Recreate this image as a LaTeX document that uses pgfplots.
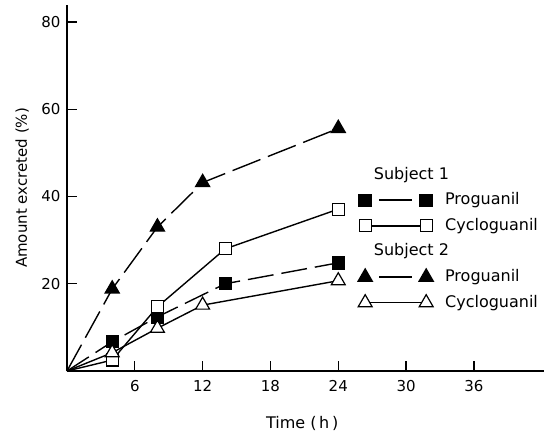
\documentclass[border=0pt]{standalone}
\usepackage{pgfplots}
\pgfplotsset{compat=1.18}
\usepackage{fontspec}
\setmainfont{DejaVu Sans}
\pgfplotsset{
  legdash/.style={legend image code/.code={%
    \draw[##1, solid, line width=1.6pt, shorten >=14pt, shorten <=14pt] (0pt,0pt) -- (61pt,0pt);
    \draw[##1, solid, only marks, mark indices={1,2}] plot coordinates {(0pt,0pt) (61pt,0pt)};}},
  legsolid/.style={legend image code/.code={%
    \draw[##1, line width=1.4pt] (0pt,0pt) -- (61pt,0pt);
    \draw[##1, only marks, mark indices={1,2}] plot coordinates {(0pt,0pt) (61pt,0pt)};}},
  leghead/.style={legend image code/.code={%
    \node[overlay, anchor=west, inner sep=0pt, text height=13pt, text depth=4pt] at (8pt,0pt) {#1};}},
}
\begin{document}
\begin{tikzpicture}
\useasboundingbox (-67pt,-61pt) rectangle (483pt,371pt);
\begin{axis}[
  scale only axis,
  width=477pt, height=366pt,
  xmin=0, xmax=42.2, ymin=0, ymax=83.9,
  axis lines=left,
  axis line style={-, line width=1.6pt},
  xtick={6,12,18,24,30,36},
  ytick={20,40,60,80},
  major tick length=10pt,
  tick style={line width=1.2pt, black},
  tick align=inside,
  /pgf/number format/assume math mode=true,
  ticklabel style={font=\fontsize{15}{18}\selectfont, text=black},
  xticklabel style={yshift=-6pt},
  yticklabel style={xshift=-3pt},
  xlabel={Time (\,h\,)},
  ylabel={Amount excreted (\%)},
  label style={font=\fontsize{15}{18}\selectfont},
  xlabel style={at={(axis description cs:0.493,0)}, anchor=center, yshift=-52pt, font=\fontsize{16}{18}\selectfont},
  ylabel style={at={(axis description cs:-0.094,0.5)}, anchor=center},
  every axis plot/.append style={line width=1.4pt, black},
  legend style={draw=none, fill=none, at={(axis cs:25.75,47.0)}, anchor=north west,
    font=\fontsize{16}{18}\selectfont, row sep=8.6pt, column sep=12pt, inner sep=0pt,
    nodes={inner sep=0pt, text height=13pt, text depth=4pt}},
  legend cell align=left,
]
\addlegendimage{leghead={Subject 1}}
\addlegendentry{}
% Subject 1 Proguanil
\addplot[dash pattern=on 26pt off 8pt, mark=square*, mark size=6pt, mark indices={2,3,4,5},
  mark options={solid, fill=black}, legdash]
  coordinates {(0,0) (4,6.7) (8,12.4) (14,20) (24,24.8)};
\addlegendentry{Proguanil}
% Subject 1 Cycloguanil
\addplot[solid, mark=square*, mark size=6pt, mark indices={2,3,4,5},
  mark options={solid, fill=white, line width=1.2pt}, legsolid]
  coordinates {(0,0) (4,2.5) (8,14.7) (14,28) (24,37.1)};
\addlegendentry{Cycloguanil}
\addlegendimage{leghead={Subject 2}}
\addlegendentry{}
% Subject 2 Proguanil
\addplot[dash pattern=on 30pt off 8pt, mark=triangle*, mark size=8pt, mark indices={2,3,4,5},
  mark options={solid, fill=black}, legdash]
  coordinates {(0,0) (4,18.8) (8,33) (12,43.2) (24,55.6)};
\addlegendentry{Proguanil}
% Subject 2 Cycloguanil
\addplot[solid, mark=triangle*, mark size=8pt, mark indices={2,3,4,5},
  mark options={solid, fill=white, line width=1.2pt}, legsolid]
  coordinates {(0,0) (4,4.2) (8,9.8) (12,15.1) (24,20.7)};
\addlegendentry{Cycloguanil}
\end{axis}
\end{tikzpicture}
\end{document}
